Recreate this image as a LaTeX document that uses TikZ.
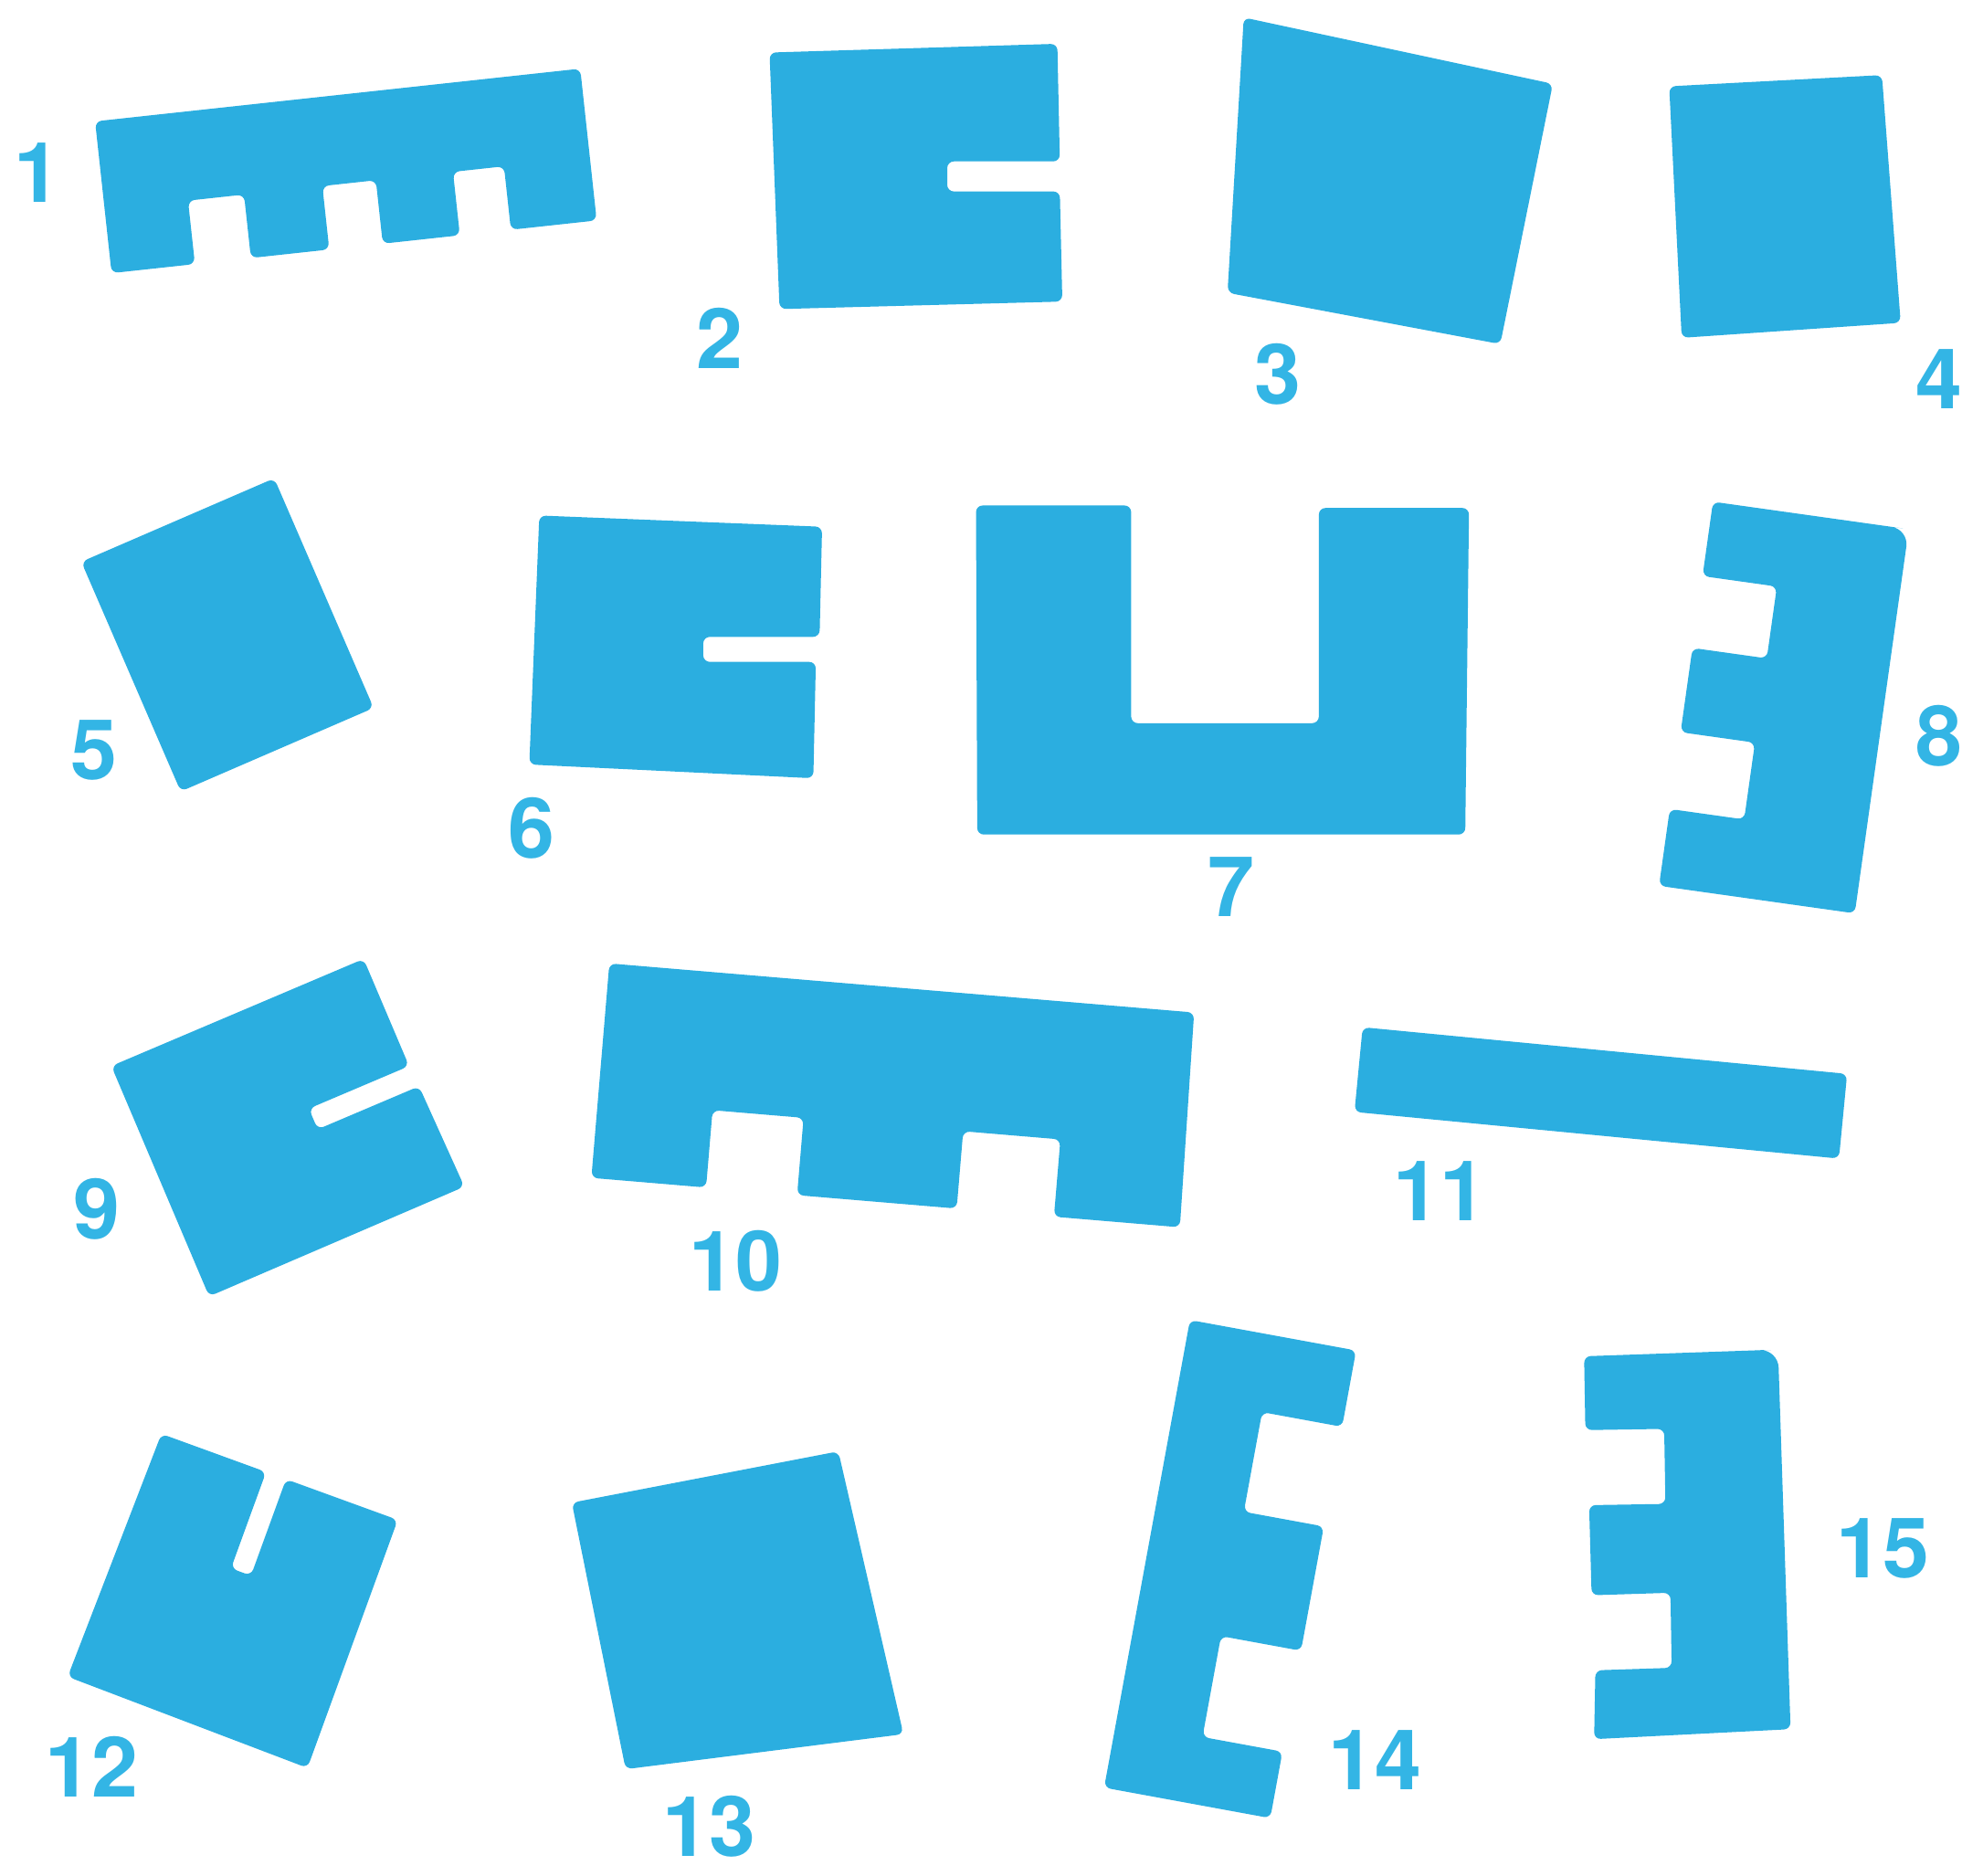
\documentclass[tikz,border=0pt]{standalone}
\usepackage{fontspec}
\setmainfont{TeX Gyre Heros}
\definecolor{card}{HTML}{2BAEE0}
\definecolor{cardnum}{HTML}{33B5E5}

\begin{document}
\begin{tikzpicture}[
  x=0.01cm, y=-0.01cm,
  piece/.style={fill=card, draw=none, rounded corners=1.5pt},
  num/.style={text=cardnum, font=\fontsize{19}{19}\selectfont\bfseries, inner sep=0pt}
]
\useasboundingbox (0,0) rectangle (1568,1499);
\fill[white] (0,0) rectangle (1568,1499);

% top row
\begin{scope}[shift={(76,97)}, rotate=6.2]
\fill[piece] (0,0) -- (390,0) -- (390,122) -- (321,122) -- (321,71) -- (280,71) -- (280,122) -- (218,122) -- (218,71) -- (175,71) -- (175,122) -- (112,122) -- (112,71) -- (67,71) -- (67,122) -- (0,122) -- cycle;
\end{scope}
\fill[piece] (615,42) -- (845,35) -- (847,129) -- (757,129) -- (757,153) -- (847,153) -- (849,241) -- (623,247) -- cycle;
\fill[piece] (994,14) -- (1241,67) -- (1199,275) -- (981,234) -- cycle;
\fill[piece] (1334,69) -- (1504,60) -- (1519,258) -- (1344,270) -- cycle;

% second row
\begin{scope}[shift={(65,449)}, rotate=23.4]
\fill[piece] (0,0) rectangle (168,200);
\end{scope}
\fill[piece] (431,412) -- (657,421) -- (655,509) -- (562,509) -- (562,529) -- (652,529) -- (650,622) -- (423,611) -- cycle;
\fill[piece] (780,404) -- (904,404) -- (904,578) -- (1054,578) -- (1054,406) -- (1174,406) -- (1171,667) -- (781,667) -- cycle;
\begin{scope}[shift={(1369,401)}, rotate=-8]
\fill[piece] (0,0) -- (148,0) [rounded corners=4pt] -- (158,0) [rounded corners=1.5pt] -- (158,310) -- (0,310) -- (0,248) -- (60,248) -- (60,186) -- (0,186) -- (0,118) -- (60,118) -- (60,60) -- (0,60) -- cycle;
\end{scope}

% third row
\begin{scope}[shift={(89,852)}, rotate=23]
\fill[piece] (0,0) -- (219,0) -- (219,93) -- (132,93) -- (132,111) -- (220,111) -- (222,199) -- (0,200) -- cycle;
\end{scope}
\begin{scope}[shift={(487,770)}, rotate=-4.8]
\fill[piece] (0,0) -- (469,0) -- (472,172) -- (371,172) -- (371,110) -- (293,110) -- (293,172) -- (165,172) -- (165,110) -- (92,110) -- (92,172) -- (0,172) -- cycle;
\end{scope}
\begin{scope}[shift={(1089,821)}, rotate=-5.5]
\fill[piece] (0,0) rectangle (389,68);
\end{scope}

% bottom row
\begin{scope}[shift={(129,1146)}, rotate=-20]
\fill[piece] (0,0) -- (89,0) -- (89,82) -- (106,82) -- (106,0) -- (201,0) -- (201,211) -- (-4,208) -- cycle;
\end{scope}
\fill[piece] (457,1201) -- (670,1160) -- (722,1386) -- (500,1414) -- cycle;
\begin{scope}[shift={(951,1055)}, rotate=-10.4]
\fill[piece] (0,0) -- (135,0) -- (135,62) -- (70,62) -- (70,143) -- (135,143) -- (135,244) -- (70,244) -- (70,326) -- (135,326) -- (135,380) -- (0,380) -- cycle;
\end{scope}
\fill[piece] (1266,1084) -- (1410,1079) [rounded corners=4pt] -- (1421,1079) [rounded corners=1.5pt] -- (1431,1382) -- (1274,1390) -- (1275,1335) -- (1336,1333) -- (1335,1273) -- (1272,1275) -- (1270,1203) -- (1331,1202) -- (1330,1142) -- (1267,1143) -- cycle;

\node[num] (n1) at (30,138) {1};
\node[num] (n2) at (575,270) {2};
\node[num] (n3) at (1021,299) {3};
\node[num] (n4) at (1550,303) {4};
\node[num] (n5) at (75,600) {5};
\node[num] (n6) at (425,662) {6};
\node[num] (n7) at (984,709) {7};
\node[num] (n8) at (1550,588) {8};
\node[num] (n9) at (77,966) {9};
\node[num] (n10) at (588,1008) {10};
\node[num] (n11) at (1151,952) {11};
\node[num] (n12) at (73,1412) {12};
\node[num] (n13) at (567,1460) {13};
\node[num] (n14) at (1099,1407) {14};
\node[num] (n15) at (1505,1238) {15};
\end{tikzpicture}
\end{document}
